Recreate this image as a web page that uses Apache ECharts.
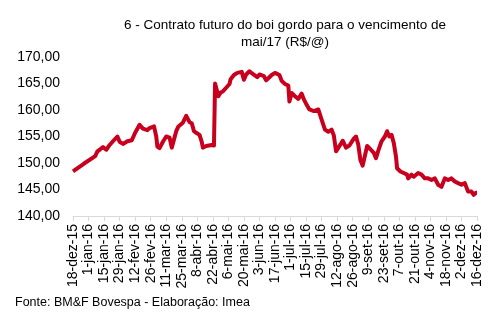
<!DOCTYPE html>
<html><head><meta charset="utf-8">
<script src="https://cdn.jsdelivr.net/npm/echarts@6/dist/echarts.min.js"></script>
<style>html,body{margin:0;padding:0;background:#fff}#c{width:503px;height:326px}</style>
</head><body><div id="c"></div>
<script>
const tickLabels = ['18-dez-15','1-jan-16','15-jan-16','29-jan-16','12-fev-16','26-fev-16','11-mar-16','25-mar-16','8-abr-16','22-abr-16','6-mai-16','20-mai-16','3-jun-16','17-jun-16','1-jul-16','15-jul-16','29-jul-16','12-ago-16','26-ago-16','9-set-16','23-set-16','7-out-16','21-out-16','4-nov-16','18-nov-16','2-dez-16','16-dez-16'];
// day offsets from 18-dez-15
const days = [0,10,20,22,24,27,30,33,36,40,42,45,49,53,56,60,63,67,69,73,75,76,78,81,84,87,89,93,95,99,102,105,107,109,111,114,116,117,120,125,127,128,131,133,135,138,141,142,145,148,152,154,156,159,162,166,168,172,174,176,179,182,186,188,191,194,195,197,200,203,206,208,210,213,217,221,224,227,230,233,235,237,241,243,246,249,253,255,257,259,261,265,268,271,273,275,278,281,283,285,287,289,291,292,295,298,301,302,305,307,311,314,317,320,323,326,329,332,335,338,341,344,347,350,353,356,359,361,363,364];
const prices = [148.4,149.9,151.3,152.2,152.5,153.0,152.5,153.4,154.1,155.0,154.0,153.6,154.1,154.3,155.7,157.2,156.5,156.2,156.6,156.9,155.0,153.1,152.8,154.0,155.0,154.8,152.9,156.0,156.9,157.6,158.9,157.7,157.5,156.0,155.7,155.3,154.0,152.9,153.2,153.4,153.3,165.0,162.6,163.3,163.5,164.2,164.9,165.8,166.6,167.0,167.2,165.7,166.7,167.3,166.8,166.2,166.7,166.4,165.6,166.0,166.6,167.0,166.6,165.5,164.9,164.6,161.6,163.2,162.6,162.1,163.1,162.0,161.2,160.1,159.8,160.1,158.2,156.3,155.9,156.3,155.2,152.2,153.5,154.2,152.9,153.3,154.6,155.0,153.5,150.5,149.5,153.2,152.6,151.9,150.9,152.3,154.1,155.0,156.0,155.0,155.3,153.8,151.2,149.0,148.4,148.1,147.8,147.1,147.8,147.4,148.1,147.8,147.1,147.1,146.8,147.1,145.9,145.5,147.1,146.8,147.1,146.5,146.2,145.9,146.2,144.6,144.6,144.0,144.4,144.4];
const seriesData = days.map((d,i)=>[d,prices[i]]);
const chart = echarts.init(document.getElementById('c'));
const FF = 'Liberation Sans, Arial, sans-serif';
chart.setOption({
  animation:false,
  textStyle:{fontFamily:FF},
  title:{text:'6 - Contrato futuro do boi gordo para o vencimento de\nmai/17 (R$/@)',left:280,textAlign:'center',top:12,
    textStyle:{fontSize:13.5,fontWeight:'normal',color:'#000',lineHeight:17,fontFamily:FF}},
  graphic:[{type:'text',left:15,top:296,style:{text:'Fonte: BM&F Bovespa - Elaboração: Imea',fontSize:12.5,fill:'#000',fontFamily:FF}}],
  grid:{left:73,right:26,top:57,bottom:110},
  xAxis:{type:'value',min:0,max:364,interval:14,
    axisLine:{show:true,lineStyle:{color:'#d9d9d9',width:1}},
    axisTick:{show:true,length:5,lineStyle:{color:'#d9d9d9'}},
    splitLine:{show:false},
    axisLabel:{rotate:90,fontSize:14,color:'#000',margin:8,showMinLabel:true,showMaxLabel:true,
      formatter:v=>tickLabels[Math.round(v/14)]||''}},
  yAxis:{type:'value',min:140,max:170,interval:5,
    axisLine:{show:false},axisTick:{show:false},splitLine:{show:false},
    axisLabel:{fontSize:14,color:'#000',margin:13,formatter:v=>v.toFixed(2).replace('.',',')}},
  series:[{type:'line',data:seriesData,showSymbol:false,symbol:'none',
    lineStyle:{color:'#c8001e',width:4,join:'round'}}]
});
</script></body></html>
